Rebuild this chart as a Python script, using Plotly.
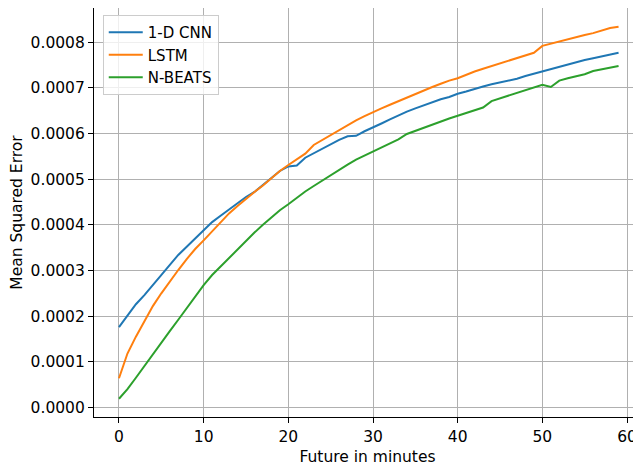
import plotly.graph_objects as go

minutes = list(range(60))

cnn_mse = [0.000176, 0.000200, 0.000226, 0.000246, 0.000268, 0.000290, 0.000312, 0.000334, 0.000352, 0.000370,
           0.000388, 0.000406, 0.000420, 0.000434, 0.000447, 0.000461, 0.000472, 0.000487, 0.000503, 0.000518,
           0.000528, 0.000530, 0.000547, 0.000557, 0.000567, 0.000577, 0.000586, 0.000594, 0.000595, 0.000605,
           0.000613, 0.000622, 0.000631, 0.000640, 0.000648, 0.000655, 0.000662, 0.000669, 0.000675, 0.000680,
           0.000687, 0.000692, 0.000698, 0.000703, 0.000708, 0.000712, 0.000717, 0.000720, 0.000726, 0.000731,
           0.000737, 0.000741, 0.000746, 0.000751, 0.000756, 0.000761, 0.000765, 0.000769, 0.000773, 0.000777]

lstm_mse = [0.000064, 0.000118, 0.000155, 0.000190, 0.000222, 0.000250, 0.000276, 0.000301, 0.000325, 0.000347,
            0.000366, 0.000386, 0.000406, 0.000425, 0.000441, 0.000457, 0.000472, 0.000486, 0.000503, 0.000518,
            0.000531, 0.000543, 0.000556, 0.000575, 0.000586, 0.000597, 0.000607, 0.000619, 0.000629, 0.000638,
            0.000647, 0.000655, 0.000663, 0.000671, 0.000679, 0.000687, 0.000695, 0.000702, 0.000709, 0.000716,
            0.000721, 0.000729, 0.000736, 0.000742, 0.000748, 0.000754, 0.000760, 0.000766, 0.000771, 0.000777,
            0.000792, 0.000797, 0.000802, 0.000807, 0.000812, 0.000816, 0.000820, 0.000825, 0.000831, 0.000834]

nbeats_mse = [0.000019, 0.000040, 0.000065, 0.000091, 0.000116, 0.000141, 0.000167, 0.000192, 0.000218, 0.000244,
              0.000268, 0.000290, 0.000309, 0.000328, 0.000347, 0.000365, 0.000383, 0.000400, 0.000417, 0.000432,
              0.000445, 0.000460, 0.000473, 0.000485, 0.000497, 0.000509, 0.000521, 0.000532, 0.000543, 0.000552,
              0.000561, 0.000570, 0.000578, 0.000587, 0.000599, 0.000606, 0.000613, 0.000620, 0.000627, 0.000633,
              0.000639, 0.000645, 0.000651, 0.000657, 0.000671, 0.000677, 0.000683, 0.000689, 0.000695, 0.000701,
              0.000707, 0.000702, 0.000716, 0.000721, 0.000725, 0.000730, 0.000737, 0.000741, 0.000745, 0.000748]

series_names = ["1-D CNN", "LSTM", "N-BEATS"]
series_colors = ["#1f77b4", "#ff7f0e", "#2ca02c"]
y_ticks = [0.0000, 0.0001, 0.0002, 0.0003, 0.0004, 0.0005, 0.0006, 0.0007, 0.0008]
x_ticks = [0, 10, 20, 30, 40, 50, 60]

fig = go.Figure()
for name, vals, col in zip(series_names, [cnn_mse, lstm_mse, nbeats_mse], series_colors):
    fig.add_trace(go.Scatter(x=minutes, y=vals, mode="lines", name=name,
                             line=dict(color=col, width=2)))

font = "DejaVu Sans, Verdana, sans-serif"
# page body has an 8px margin, so the figure is 8px smaller and margins shifted
fig.update_layout(
    width=633, height=460,
    margin=dict(l=86, r=0, t=0, b=51),
    paper_bgcolor="white", plot_bgcolor="white",
    font=dict(family=font, size=15.5, color="black"),
    showlegend=True,
    legend=dict(x=0.016, y=0.983, xanchor="left", yanchor="top",
                bgcolor="rgba(255,255,255,0.8)", bordercolor="#cccccc", borderwidth=1,
                font=dict(family=font, size=15), itemwidth=34),
)
fig.update_xaxes(
    range=[-2.95, 61.65], tickvals=x_ticks, ticktext=[str(t) for t in x_ticks],
    showgrid=True, gridcolor="#b0b0b0", gridwidth=1.1,
    showline=True, linecolor="black", linewidth=1.1, mirror=True,
    ticks="outside", ticklen=5, tickwidth=1.1, tickcolor="black",
    zeroline=False, automargin=False,
    title=dict(text="Future in minutes", font=dict(family=font, size=15.5), standoff=6),
)
fig.update_yaxes(
    range=[-0.000021, 0.000875], tickvals=y_ticks, ticktext=[f"{t:.4f}" for t in y_ticks],
    showgrid=True, gridcolor="#b0b0b0", gridwidth=1.1,
    showline=True, linecolor="black", linewidth=1.1, mirror=False,
    ticks="outside", ticklen=5, tickwidth=1.1, tickcolor="black",
    zeroline=False, automargin=False,
    title=dict(text="Mean Squared Error", font=dict(family=font, size=15.5), standoff=8),
)

fig.write_html("out.html")
